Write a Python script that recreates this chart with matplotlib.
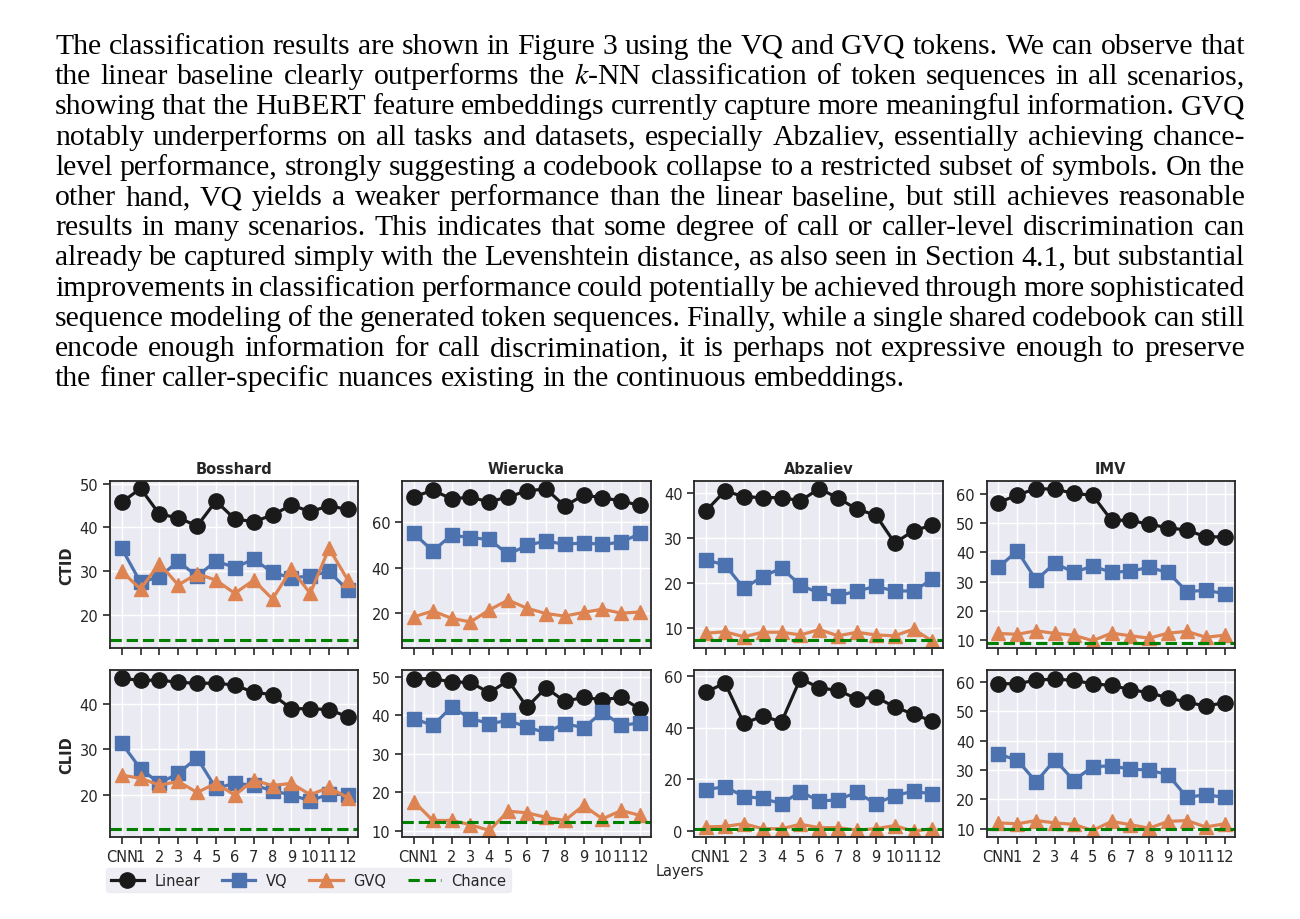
import matplotlib
matplotlib.use("Agg")
import matplotlib.pyplot as plt

# ---- data ----
layers = ["CNN", "1", "2", "3", "4", "5", "6", "7", "8", "9", "10", "11", "12"]
datasets = ["Bosshard", "Wierucka", "Abzaliev", "IMV"]
tasks = ["CTID", "CLID"]

bosshard_ctid_linear = [45.7, 48.9, 43.0, 42.2, 40.3, 46.0, 41.9, 41.3, 42.8, 45.1, 43.6, 44.9, 44.1]
bosshard_ctid_vq = [35.2, 27.4, 28.7, 32.2, 28.8, 32.3, 30.8, 32.7, 29.7, 28.4, 28.9, 29.9, 25.6]
bosshard_ctid_gvq = [29.9, 25.9, 31.7, 26.8, 29.4, 27.9, 24.9, 27.9, 23.6, 30.4, 24.9, 35.2, 27.9]

wierucka_ctid_linear = [71.1, 73.9, 70.2, 70.9, 68.8, 71.1, 73.6, 74.6, 67.0, 71.8, 70.7, 69.2, 67.3]
wierucka_ctid_vq = [55.0, 47.3, 54.3, 53.1, 52.4, 45.8, 49.8, 51.7, 50.2, 50.9, 50.2, 51.2, 55.0]
wierucka_ctid_gvq = [18.5, 21.0, 17.8, 16.2, 21.5, 25.8, 22.2, 19.9, 18.8, 20.4, 21.8, 20.0, 20.6]

abzaliev_ctid_linear = [36.1, 40.5, 39.2, 39.0, 39.0, 38.3, 41.0, 38.9, 36.4, 35.1, 28.9, 31.6, 32.9]
abzaliev_ctid_vq = [25.1, 24.0, 18.8, 21.4, 23.3, 19.5, 17.7, 17.1, 18.2, 19.2, 18.2, 18.2, 20.8]
abzaliev_ctid_gvq = [8.8, 9.1, 8.0, 9.0, 9.0, 8.4, 9.6, 8.2, 9.0, 8.4, 8.2, 9.7, 7.0]

imv_ctid_linear = [56.9, 59.5, 61.7, 61.5, 60.1, 59.4, 50.9, 50.9, 49.5, 48.4, 47.5, 45.3, 45.2]
imv_ctid_vq = [34.8, 40.5, 30.5, 36.3, 33.1, 35.3, 33.1, 33.6, 34.8, 33.1, 26.6, 27.0, 25.9]
imv_ctid_gvq = [12.3, 12.0, 13.2, 12.3, 11.7, 9.8, 12.4, 11.5, 10.7, 12.4, 13.0, 11.0, 11.7]

bosshard_clid_linear = [45.6, 45.1, 45.2, 44.7, 44.5, 44.5, 44.1, 42.5, 42.0, 38.9, 38.9, 38.7, 37.1]
bosshard_clid_vq = [31.3, 25.7, 22.5, 24.7, 28.1, 21.4, 22.5, 22.1, 20.9, 19.9, 18.7, 20.1, 20.0]
bosshard_clid_gvq = [24.3, 23.6, 22.1, 22.9, 20.5, 22.5, 19.9, 23.2, 22.0, 22.5, 20.0, 21.6, 19.3]

wierucka_clid_linear = [49.5, 49.6, 48.7, 48.6, 45.9, 49.1, 42.2, 47.2, 43.7, 44.7, 44.1, 44.7, 41.6]
wierucka_clid_vq = [39.2, 37.4, 42.2, 39.2, 37.9, 38.7, 37.0, 35.5, 37.9, 36.8, 40.9, 37.4, 38.1]
wierucka_clid_gvq = [17.6, 12.7, 12.7, 11.6, 10.1, 15.1, 14.7, 13.5, 12.7, 16.6, 13.1, 15.3, 14.0]

abzaliev_clid_linear = [53.7, 57.2, 41.6, 44.4, 42.2, 58.9, 55.3, 54.3, 51.1, 51.7, 48.0, 45.1, 42.5]
abzaliev_clid_vq = [16.1, 17.2, 13.4, 12.7, 10.6, 15.3, 11.6, 12.2, 15.0, 10.6, 13.8, 15.4, 14.4]
abzaliev_clid_gvq = [1.7, 1.9, 2.9, 1.0, 1.0, 2.7, 1.4, 1.4, 0.4, 1.0, 2.2, 0.0, 1.0]

imv_clid_linear = [59.4, 59.4, 60.6, 61.0, 60.5, 59.4, 58.8, 57.4, 56.3, 54.6, 53.1, 51.8, 52.9]
imv_clid_vq = [35.4, 33.4, 26.0, 33.5, 26.4, 31.2, 31.4, 30.3, 30.0, 28.4, 20.7, 21.6, 20.7]
imv_clid_gvq = [12.0, 11.7, 12.8, 12.0, 11.5, 9.4, 12.5, 11.4, 10.2, 12.5, 12.8, 10.6, 11.7]

chance_ctid = [14.3, 8.3, 7.3, 9.0]
chance_clid = [12.5, 12.4, 1.0, 10.0]

yticks_ctid = [[20, 30, 40, 50], [20, 40, 60], [10, 20, 30, 40], [10, 20, 30, 40, 50, 60]]
yticks_clid = [[20, 30, 40], [10, 20, 30, 40, 50], [0, 20, 40, 60], [10, 20, 30, 40, 50, 60]]
ylims_ctid = [(12.5, 50.6), (5.0, 78.0), (5.6, 42.7), (7.5, 64.3)]
ylims_clid = [(10.7, 47.3), (8.4, 51.7), (-2.2, 62.0), (7.2, 63.9)]

paragraph = [
    "The classification results are shown in Figure 3 using the VQ and GVQ tokens. We can observe that",
    "the linear baseline clearly outperforms the $k$-NN classification of token sequences in all scenarios,",
    "showing that the HuBERT feature embeddings currently capture more meaningful information. GVQ",
    "notably underperforms on all tasks and datasets, especially Abzaliev, essentially achieving chance-",
    "level performance, strongly suggesting a codebook collapse to a restricted subset of symbols. On the",
    "other hand, VQ yields a weaker performance than the linear baseline, but still achieves reasonable",
    "results in many scenarios. This indicates that some degree of call or caller-level discrimination can",
    "already be captured simply with the Levenshtein distance, as also seen in Section 4.1, but substantial",
    "improvements in classification performance could potentially be achieved through more sophisticated",
    "sequence modeling of the generated token sequences. Finally, while a single shared codebook can still",
    "encode enough information for call discrimination, it is perhaps not expressive enough to preserve",
    "the finer caller-specific nuances existing in the continuous embeddings.",
]

results = {
    "CTID": [
        (bosshard_ctid_linear, bosshard_ctid_vq, bosshard_ctid_gvq),
        (wierucka_ctid_linear, wierucka_ctid_vq, wierucka_ctid_gvq),
        (abzaliev_ctid_linear, abzaliev_ctid_vq, abzaliev_ctid_gvq),
        (imv_ctid_linear, imv_ctid_vq, imv_ctid_gvq),
    ],
    "CLID": [
        (bosshard_clid_linear, bosshard_clid_vq, bosshard_clid_gvq),
        (wierucka_clid_linear, wierucka_clid_vq, wierucka_clid_gvq),
        (abzaliev_clid_linear, abzaliev_clid_vq, abzaliev_clid_gvq),
        (imv_clid_linear, imv_clid_vq, imv_clid_gvq),
    ],
}
chance = {"CTID": chance_ctid, "CLID": chance_clid}
yticks = {"CTID": yticks_ctid, "CLID": yticks_clid}
ylims = {"CTID": ylims_ctid, "CLID": ylims_clid}

# ---- style ----
plt.rcParams["font.family"] = "DejaVu Sans"
plt.rcParams["mathtext.fontset"] = "stix"
dark = "#262626"
bg = "#EAEAF2"

fig = plt.figure(figsize=(13, 9.2), dpi=100)
axes = fig.subplots(2, 4, sharex=True, gridspec_kw=dict(
    left=110 / 1300, right=1235 / 1300, top=1 - 482 / 920, bottom=1 - 838 / 920,
    wspace=0.177, hspace=0.138))

x = list(range(len(layers)))
for r, task in enumerate(tasks):
    for c, name in enumerate(datasets):
        ax = axes[r, c]
        lin, vq, gvq = results[task][c]
        ax.plot(x, lin, "-o", color="#1a1a1a", lw=2.3, ms=11, label="Linear")
        ax.plot(x, vq, "-s", color="#4C72B0", lw=2.3, ms=10.5, label="VQ")
        ax.plot(x, gvq, "-^", color="#DD8452", lw=2.3, ms=10.5, label="GVQ")
        ax.axhline(chance[task][c], color="green", ls="--", lw=2.2, label="Chance")

        ax.set_facecolor(bg)
        ax.grid(True, color="white", lw=1.0)
        ax.set_axisbelow(True)
        for s in ax.spines.values():
            s.set_color(dark)
            s.set_linewidth(1.3)
        ax.tick_params(length=5, width=1.2, color=dark, labelcolor=dark, labelsize=10.5)
        ax.set_xticks(x, layers)
        ax.set_xlim(-0.62, 12.55)
        ax.set_yticks(yticks[task][c])
        ax.set_ylim(*ylims[task][c])
        if r == 0:
            ax.set_title(name, fontweight="bold", fontsize=10.5, color=dark, pad=6)
        if c == 0:
            ax.set_ylabel(task, fontweight="bold", fontsize=10.5, color=dark)

handles, labels = axes[0, 0].get_legend_handles_labels()
leg = fig.legend(handles, labels, loc="upper left", bbox_to_anchor=(99 / 1300, 1 - 862 / 920),
                 ncol=4, fontsize=10.5, frameon=True, facecolor=bg, edgecolor=bg,
                 handlelength=2.3, columnspacing=1.5, borderpad=0.3, handletextpad=0.7)
for t in leg.get_texts():
    t.set_color(dark)
fig.text(680 / 1300, 1 - 872 / 920, "Layers", ha="center", va="center", fontsize=10.5, color=dark)

# ---- justified paragraph above the figure ----
fig.canvas.draw()
rend = fig.canvas.get_renderer()
serif = "Liberation Serif"
fs = 18
probe = [fig.text(0, 0, ln, fontsize=fs, family=serif) for ln in paragraph]
maxw = max(t.get_window_extent(rend).width for t in probe)
for t in probe:
    t.remove()
fs = fs * 1218 / maxw

x0, x1 = 55, 1245
for i, ln in enumerate(paragraph):
    base = 1 - (54 + i * 30.2) / 920
    words = ln.split(" ")
    txts = [fig.text(0, base, w, fontsize=fs, family=serif, va="baseline", color="black") for w in words]
    widths = [t.get_window_extent(rend).width for t in txts]
    if i < len(paragraph) - 1:
        gap = (x1 - x0 - sum(widths)) / (len(words) - 1)
    else:
        gap = fs * 100 / 72 * 0.25
    pos = x0
    for t, w in zip(txts, widths):
        t.set_x(pos / 1300)
        pos += w + gap

fig.savefig("out.png", dpi=100)
